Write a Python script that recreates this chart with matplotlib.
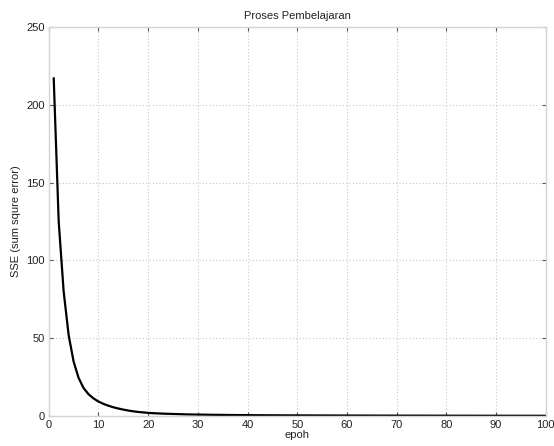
import matplotlib
matplotlib.use("Agg")
import matplotlib.pyplot as plt

plt.rcParams['font.family'] = ['Liberation Sans', 'DejaVu Sans']

title = "Proses Pembelajaran"
xlabel = "epoh"
ylabel = "SSE (sum squre error)"

epoh = list(range(1, 101))
sse = [217, 125, 80, 52, 35, 24.5, 18, 14, 11.3, 9.3,
       7.8, 6.6, 5.6, 4.8, 4.1, 3.5, 3.0, 2.6, 2.3, 2.0,
       1.8, 1.65, 1.5, 1.4, 1.3, 1.2, 1.1, 1.0, 0.95, 0.9,
       0.85, 0.8, 0.76, 0.72, 0.68, 0.65, 0.62, 0.59, 0.56, 0.54,
       0.52, 0.50, 0.48, 0.46, 0.44, 0.43, 0.42, 0.41, 0.40, 0.39,
       0.38, 0.37, 0.36, 0.35, 0.34, 0.33, 0.32, 0.31, 0.30, 0.30,
       0.29, 0.28, 0.28, 0.27, 0.26, 0.26, 0.25, 0.25, 0.24, 0.24,
       0.23, 0.23, 0.22, 0.22, 0.21, 0.21, 0.20, 0.20, 0.20, 0.19,
       0.19, 0.18, 0.18, 0.18, 0.17, 0.17, 0.17, 0.16, 0.16, 0.16,
       0.15, 0.15, 0.15, 0.15, 0.14, 0.14, 0.14, 0.14, 0.13, 0.13]

xticks = list(range(0, 101, 10))
yticks = list(range(0, 251, 50))

fig = plt.figure(figsize=(5.54, 4.46), dpi=100)
ax = fig.add_axes([0.088, 0.0673, 0.897, 0.872])
ax.plot(epoh, sse, color='black', lw=1.6)
ax.set_xlim(0, 100)
ax.set_ylim(0, 250)
ax.set_xticks(xticks)
ax.set_yticks(yticks)
ax.grid(True, color='#c8c8c8', linestyle=(0, (1, 2)), lw=0.8)
for s in ax.spines.values():
    s.set_color('#d4d4d4')
    s.set_linewidth(1.0)
ax.tick_params(direction='in', length=3, width=0.8, color='#555555',
               labelsize=8, labelcolor='#222222', top=True, right=True, pad=3)
ax.set_title(title, fontsize=8, color='#222222', pad=6)
ax.set_xlabel(xlabel, fontsize=8, color='#222222', labelpad=0)
ax.set_ylabel(ylabel, fontsize=8, color='#222222', labelpad=4)
fig.savefig("out.png", dpi=100)
